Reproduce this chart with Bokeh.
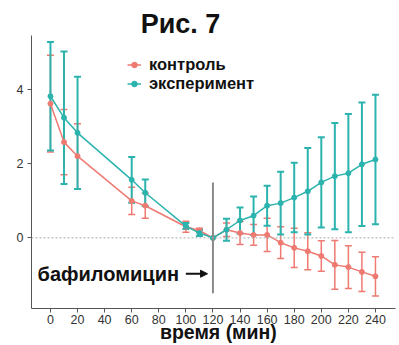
from bokeh.plotting import figure
from bokeh.models import (ColumnDataSource, Whisker, TeeHead, Span, Label, Legend, LegendItem,
                          FixedTicker, Range1d, Arrow, NormalHead)
from bokeh.embed import file_html
from bokeh.resources import INLINE

# ---- data ----
times = [0, 10, 20, 60, 70, 100, 110, 120, 130, 140, 150, 160, 170, 180, 190, 200, 210, 220, 230, 240]
ctrl_mean = [3.63, 2.59, 2.21, 1.00, 0.87, 0.30, 0.20, 0.0, 0.22, 0.13, 0.08, 0.08, -0.13, -0.27,
             -0.36, -0.49, -0.73, -0.79, -0.92, -1.04]
ctrl_err = [1.31, 0.88, 0.88, 0.37, 0.34, 0.15, 0.06, 0.0, 0.18, 0.31, 0.28, 0.45, 0.43, 0.53,
            0.50, 0.41, 0.66, 0.58, 0.53, 0.53]
exp_mean = [3.83, 3.25, 2.84, 1.57, 1.22, 0.32, 0.13, 0.0, 0.22, 0.47, 0.60, 0.87, 0.94, 1.09,
            1.26, 1.50, 1.67, 1.75, 1.99, 2.12]
exp_err = [1.47, 1.79, 1.52, 0.62, 0.36, 0.08, 0.08, 0.0, 0.30, 0.35, 0.52, 0.54, 0.85, 0.94,
           1.17, 1.22, 1.44, 1.60, 1.67, 1.75]
x_ticks = [0, 20, 40, 60, 80, 100, 120, 140, 160, 180, 200, 220, 240]
y_ticks = [0, 2, 4]
labels = ["контроль", "эксперимент"]
title_text = "Рис. 7"
x_title = "время (мин)"
annot_text = "бафиломицин"
treat_time = 120
y_lo, y_hi = -1.91, 5.48

RED = "#EE7A72"
TEAL = "#2BB3AE"
FONT = "Liberation Sans"

p = figure(width=399, height=345, output_backend="svg", toolbar_location=None,
           x_range=Range1d(-14, 254.8), y_range=Range1d(y_lo, 6.42),
           min_border_left=31, min_border_right=4, min_border_top=0, min_border_bottom=35)
p.outline_line_color = None
p.xgrid.visible = False
p.ygrid.visible = False
p.background_fill_color = "white"

for ax in (p.xaxis[0], p.yaxis[0]):
    ax.axis_line_color = "#555555"
    ax.major_tick_line_color = "#555555"
    ax.minor_tick_line_color = None
    ax.major_tick_out = 4
    ax.major_tick_in = 0
    ax.major_label_text_font = FONT
    ax.major_label_text_font_size = "12.5px"
    ax.major_label_text_color = "#333333"
p.xaxis.ticker = FixedTicker(ticks=x_ticks)
p.yaxis.ticker = FixedTicker(ticks=y_ticks)
p.yaxis.bounds = (y_lo, y_hi)
p.xaxis.major_label_standoff = 2
p.yaxis.major_label_standoff = 4
p.xaxis.axis_label = "\u2002" + x_title
p.xaxis.axis_label_text_font = FONT
p.xaxis.axis_label_text_font_style = "bold"
p.xaxis.axis_label_text_font_size = "19.5px"
p.xaxis.axis_label_text_color = "#111111"
p.xaxis.axis_label_standoff = -6

# zero line
p.add_layout(Span(location=0, dimension="width", line_color="#aaaaaa", line_dash="2 2", line_width=1))

def series(mean, err, color, lw_err):
    src = ColumnDataSource(dict(
        x=[t for t, e in zip(times, err) if e > 0],
        up=[m + e for m, e in zip(mean, err) if e > 0],
        lo=[m - e for m, e in zip(mean, err) if e > 0]))
    w = Whisker(base="x", upper="up", lower="lo", source=src, line_color=color, line_width=lw_err,
                upper_head=TeeHead(size=7, line_color=color, line_width=lw_err),
                lower_head=TeeHead(size=7, line_color=color, line_width=lw_err))
    p.add_layout(w)
    ln = p.line(times, mean, line_color=color, line_width=1.5)
    sc = p.scatter(times, mean, size=5, fill_color=color, line_color=color)
    return ln, sc

r_ln, r_sc = series(ctrl_mean, ctrl_err, RED, 1.5)
t_ln, t_sc = series(exp_mean, exp_err, TEAL, 2)

# treatment line
p.segment(x0=[treat_time], y0=[-1.5], x1=[treat_time], y1=[1.5], line_color="#8a8a8a", line_width=2)

# annotation text + arrow
p.add_layout(Label(x=-9.5, y=-0.97, text=annot_text, text_font=FONT, text_font_style="bold",
                   text_font_size="20px", text_baseline="middle", text_color="#111111"))
p.add_layout(Arrow(x_start=100, y_start=-0.97, x_end=116, y_end=-0.97, line_width=2, line_color="#111111",
                   end=NormalHead(size=7, fill_color="#111111", line_color="#111111")))

# title
p.add_layout(Label(x=96, y=5.78, text=title_text, text_font=FONT,
                   text_font_style="bold", text_font_size="27px", text_align="center",
                   text_baseline="middle", text_color="#111111"))

legend = Legend(items=[LegendItem(label=labels[0], renderers=[r_ln, r_sc]),
                       LegendItem(label=labels[1], renderers=[t_ln, t_sc])],
                location=(96, 215), padding=0, margin=0, spacing=0,
                glyph_width=14, glyph_height=15, label_height=15, label_standoff=8,
                label_text_font=FONT, label_text_font_style="bold", label_text_font_size="16.5px",
                label_text_color="#111111", border_line_color=None, background_fill_alpha=0)
p.add_layout(legend)

open("out.html", "w").write(file_html(p, INLINE))
